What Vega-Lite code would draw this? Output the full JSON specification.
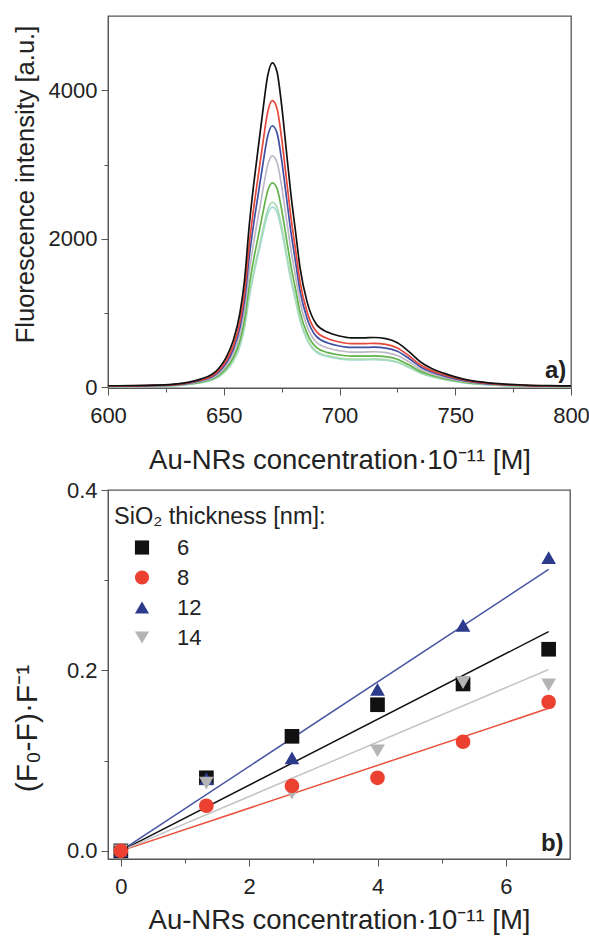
{
  "$schema": "https://vega.github.io/schema/vega-lite/v6.json",
  "padding": {"left": 11, "top": 15, "right": 10, "bottom": 0},
  "background": "white",
  "spacing": 3,
  "resolve": {
    "scale": {"color": "independent", "shape": "independent", "size": "independent"},
    "legend": {"color": "independent", "shape": "independent", "size": "independent"}
  },
  "datasets": {
    "fits": [
      {"s": "6", "x": 0, "y": 0}, {"s": "6", "x": 6.667, "y": 0.243},
      {"s": "8", "x": 0, "y": 0}, {"s": "8", "x": 6.667, "y": 0.158},
      {"s": "12", "x": 0, "y": 0}, {"s": "12", "x": 6.667, "y": 0.312},
      {"s": "14", "x": 0, "y": 0}, {"s": "14", "x": 6.667, "y": 0.201}
    ]
  },
  "config": {
    "font": "Liberation Sans",
    "view": {"stroke": "#555555", "strokeWidth": 1.3},
    "axis": {
      "grid": false,
      "domainColor": "#555555",
      "tickColor": "#555555",
      "labelColor": "#222222",
      "titleColor": "#222222",
      "labelFontSize": 22,
      "titleFontSize": 27.5,
      "titleFontWeight": "normal",
      "labelFont": "Liberation Sans",
      "titleFont": "Liberation Sans",
      "labelFlush": false,
      "labelOverlap": false,
      "labelBound": false
    }
  },
  "vconcat": [
    {
      "width": 463,
      "height": 372,
      "layer": [
        {
          "data": {
            "values": [
              {"w": 600, "k": 20, "r": 18, "b": 16, "g": 14, "gr": 13, "lg": 11, "c": 11},
              {"w": 610, "k": 22, "r": 19, "b": 18, "g": 16, "gr": 14, "lg": 13, "c": 12},
              {"w": 620, "k": 28, "r": 25, "b": 23, "g": 20, "gr": 18, "lg": 16, "c": 16},
              {"w": 630, "k": 45, "r": 40, "b": 36, "g": 32, "gr": 28, "lg": 26, "c": 25},
              {"w": 635, "k": 70, "r": 62, "b": 56, "g": 50, "gr": 44, "lg": 40, "c": 39},
              {"w": 640, "k": 110, "r": 97, "b": 89, "g": 78, "gr": 69, "lg": 63, "c": 61},
              {"w": 645, "k": 175, "r": 155, "b": 141, "g": 125, "gr": 110, "lg": 100, "c": 97},
              {"w": 648, "k": 260, "r": 230, "b": 210, "g": 185, "gr": 164, "lg": 148, "c": 144},
              {"w": 651, "k": 400, "r": 353, "b": 322, "g": 285, "gr": 252, "lg": 228, "c": 222},
              {"w": 654, "k": 620, "r": 547, "b": 500, "g": 442, "gr": 391, "lg": 353, "c": 344},
              {"w": 657, "k": 1000, "r": 883, "b": 806, "g": 713, "gr": 630, "lg": 570, "c": 555},
              {"w": 659, "k": 1450, "r": 1280, "b": 1169, "g": 1034, "gr": 914, "lg": 827, "c": 805},
              {"w": 661, "k": 2175, "r": 1921, "b": 1753, "g": 1551, "gr": 1370, "lg": 1240, "c": 1207},
              {"w": 663, "k": 2750, "r": 2428, "b": 2217, "g": 1961, "gr": 1733, "lg": 1568, "c": 1526},
              {"w": 665, "k": 3250, "r": 2870, "b": 2620, "g": 2317, "gr": 2048, "lg": 1853, "c": 1804},
              {"w": 667, "k": 3750, "r": 3311, "b": 3023, "g": 2674, "gr": 2363, "lg": 2138, "c": 2081},
              {"w": 669, "k": 4200, "r": 3709, "b": 3385, "g": 2995, "gr": 2646, "lg": 2394, "c": 2331},
              {"w": 671, "k": 4370, "r": 3859, "b": 3522, "g": 3116, "gr": 2753, "lg": 2491, "c": 2425},
              {"w": 673, "k": 4250, "r": 3753, "b": 3426, "g": 3030, "gr": 2678, "lg": 2423, "c": 2359},
              {"w": 675, "k": 3800, "r": 3355, "b": 3063, "g": 2709, "gr": 2394, "lg": 2166, "c": 2109},
              {"w": 677, "k": 3200, "r": 2826, "b": 2579, "g": 2282, "gr": 2016, "lg": 1824, "c": 1776},
              {"w": 679, "k": 2600, "r": 2296, "b": 2096, "g": 1854, "gr": 1638, "lg": 1482, "c": 1443},
              {"w": 681, "k": 2100, "r": 1854, "b": 1693, "g": 1497, "gr": 1323, "lg": 1197, "c": 1166},
              {"w": 683, "k": 1600, "r": 1413, "b": 1290, "g": 1141, "gr": 1008, "lg": 912, "c": 888},
              {"w": 686, "k": 1150, "r": 1015, "b": 927, "g": 820, "gr": 725, "lg": 656, "c": 638},
              {"w": 690, "k": 850, "r": 751, "b": 685, "g": 606, "gr": 536, "lg": 485, "c": 472},
              {"w": 695, "k": 740, "r": 653, "b": 596, "g": 528, "gr": 466, "lg": 422, "c": 411},
              {"w": 700, "k": 690, "r": 609, "b": 556, "g": 492, "gr": 435, "lg": 393, "c": 383},
              {"w": 705, "k": 665, "r": 587, "b": 536, "g": 474, "gr": 419, "lg": 379, "c": 369},
              {"w": 710, "k": 665, "r": 587, "b": 536, "g": 474, "gr": 419, "lg": 379, "c": 369},
              {"w": 715, "k": 670, "r": 592, "b": 540, "g": 478, "gr": 422, "lg": 382, "c": 372},
              {"w": 720, "k": 655, "r": 578, "b": 528, "g": 467, "gr": 413, "lg": 373, "c": 364},
              {"w": 725, "k": 600, "r": 530, "b": 484, "g": 428, "gr": 378, "lg": 342, "c": 333},
              {"w": 730, "k": 480, "r": 424, "b": 387, "g": 342, "gr": 302, "lg": 274, "c": 266},
              {"w": 735, "k": 340, "r": 300, "b": 274, "g": 242, "gr": 214, "lg": 194, "c": 189},
              {"w": 740, "k": 250, "r": 221, "b": 202, "g": 178, "gr": 158, "lg": 143, "c": 139},
              {"w": 745, "k": 190, "r": 168, "b": 153, "g": 135, "gr": 120, "lg": 108, "c": 105},
              {"w": 750, "k": 140, "r": 124, "b": 113, "g": 100, "gr": 88, "lg": 80, "c": 78},
              {"w": 755, "k": 100, "r": 88, "b": 81, "g": 71, "gr": 63, "lg": 57, "c": 56},
              {"w": 760, "k": 75, "r": 66, "b": 60, "g": 53, "gr": 47, "lg": 43, "c": 42},
              {"w": 770, "k": 45, "r": 40, "b": 36, "g": 32, "gr": 28, "lg": 26, "c": 25},
              {"w": 780, "k": 30, "r": 26, "b": 24, "g": 21, "gr": 19, "lg": 17, "c": 17},
              {"w": 790, "k": 22, "r": 19, "b": 18, "g": 16, "gr": 14, "lg": 13, "c": 12},
              {"w": 800, "k": 18, "r": 16, "b": 15, "g": 13, "gr": 11, "lg": 10, "c": 10}
            ]
          },
          "transform": [{"fold": ["c", "lg", "gr", "g", "b", "r", "k"], "as": ["series", "value"]}],
          "mark": {"type": "line", "strokeWidth": 1.7, "interpolate": "monotone", "clip": true},
          "encoding": {
            "x": {
              "field": "w", "type": "quantitative",
              "scale": {"domain": [600, 800], "nice": false, "zero": false},
              "axis": {
                "values": [600, 625, 650, 675, 700, 725, 750, 775, 800],
                "labelExpr": "datum.value % 50 == 0 ? datum.label : ''",
                "tickSize": {"condition": {"test": "datum.value % 50 == 0", "value": 7}, "value": 4},
                "labelPadding": 10,
                "titlePadding": 20,
                "title": "Au-NRs concentration·10⁻¹¹ [M]"
              }
            },
            "y": {
              "field": "value", "type": "quantitative",
              "scale": {"domain": [-10, 5000], "nice": false, "zero": false},
              "axis": {
                "values": [0, 1000, 2000, 3000, 4000],
                "format": "d",
                "labelExpr": "datum.value % 2000 == 0 ? datum.label : ''",
                "tickSize": {"condition": {"test": "datum.value % 2000 == 0", "value": 7}, "value": 4},
                "labelPadding": 4,
                "titlePadding": 10,
                "titleFontSize": 25.5,
                "titleY": 168,
                "title": "Fluorescence intensity [a.u.]"
              }
            },
            "color": {
              "field": "series", "type": "nominal",
              "scale": {
                "domain": ["k", "r", "b", "g", "gr", "lg", "c"],
                "range": ["#111111", "#e8473b", "#3f4fa3", "#bdb8c6", "#62b24a", "#a9dcb4", "#a2dad6"]
              },
              "legend": null
            }
          }
        },
        {
          "data": {"values": [{"t": "a)", "x": 798, "y": 130}]},
          "mark": {"type": "text", "fontSize": 24, "fontWeight": "bold", "align": "right", "baseline": "alphabetic", "color": "#222222"},
          "encoding": {
            "x": {"field": "x", "type": "quantitative"},
            "y": {"field": "y", "type": "quantitative"},
            "text": {"field": "t"}
          }
        }
      ]
    },
    {
      "width": 462,
      "height": 369,
      "layer": [
        {
          "data": {"name": "fits"},
          "transform": [{"filter": "datum.s == '6'"}],
          "mark": {"type": "line", "strokeWidth": 1.5, "color": "#111111"},
          "encoding": {
            "x": {
              "field": "x", "type": "quantitative",
              "scale": {"domain": [-0.2, 7], "nice": false, "zero": false},
              "axis": {
                "values": [0, 1, 2, 3, 4, 5, 6],
                "format": "d",
                "labelExpr": "datum.value % 2 == 0 ? datum.label : ''",
                "tickSize": {"condition": {"test": "datum.value % 2 == 0", "value": 7}, "value": 4},
                "labelPadding": 10,
                "titlePadding": 9,
                "title": "Au-NRs concentration·10⁻¹¹ [M]"
              }
            },
            "y": {
              "field": "y", "type": "quantitative",
              "scale": {"domain": [-0.009, 0.4], "nice": false, "zero": false},
              "axis": {
                "values": [0, 0.1, 0.2, 0.3, 0.4],
                "format": ".1f",
                "labelExpr": "round(datum.value * 10) % 2 == 0 ? datum.label : ''",
                "tickSize": {"condition": {"test": "round(datum.value * 10) % 2 == 0", "value": 7}, "value": 4},
                "labelPadding": 4,
                "titlePadding": 24,
                "titleFontSize": 30,
                "titleY": 238,
                "title": "(F₀-F)·F⁻¹"
              }
            }
          }
        },
        {
          "data": {"name": "fits"},
          "transform": [{"filter": "datum.s == '8'"}],
          "mark": {"type": "line", "strokeWidth": 1.5, "color": "#e8503c"},
          "encoding": {
            "x": {"field": "x", "type": "quantitative"},
            "y": {"field": "y", "type": "quantitative"}
          }
        },
        {
          "data": {"name": "fits"},
          "transform": [{"filter": "datum.s == '12'"}],
          "mark": {"type": "line", "strokeWidth": 1.5, "color": "#4653a0"},
          "encoding": {
            "x": {"field": "x", "type": "quantitative"},
            "y": {"field": "y", "type": "quantitative"}
          }
        },
        {
          "data": {"name": "fits"},
          "transform": [{"filter": "datum.s == '14'"}],
          "mark": {"type": "line", "strokeWidth": 1.5, "color": "#c4c4c4"},
          "encoding": {
            "x": {"field": "x", "type": "quantitative"},
            "y": {"field": "y", "type": "quantitative"}
          }
        },
        {
          "data": {
            "values": [
              {"s": "6", "x": 0, "y": 0},
              {"s": "6", "x": 1.333, "y": 0.081},
              {"s": "6", "x": 2.667, "y": 0.127},
              {"s": "6", "x": 4, "y": 0.162},
              {"s": "6", "x": 5.333, "y": 0.185},
              {"s": "6", "x": 6.667, "y": 0.2235},
              {"s": "12", "x": 0, "y": 0},
              {"s": "12", "x": 1.333, "y": 0.08},
              {"s": "12", "x": 2.667, "y": 0.103},
              {"s": "12", "x": 4, "y": 0.179},
              {"s": "12", "x": 5.333, "y": 0.25},
              {"s": "12", "x": 6.667, "y": 0.325},
              {"s": "14", "x": 0, "y": 0},
              {"s": "14", "x": 1.333, "y": 0.075},
              {"s": "14", "x": 2.667, "y": 0.064},
              {"s": "14", "x": 4, "y": 0.111},
              {"s": "14", "x": 5.333, "y": 0.1865},
              {"s": "14", "x": 6.667, "y": 0.184},
              {"s": "8", "x": 0, "y": 0},
              {"s": "8", "x": 1.333, "y": 0.05},
              {"s": "8", "x": 2.667, "y": 0.072},
              {"s": "8", "x": 4, "y": 0.081},
              {"s": "8", "x": 5.333, "y": 0.121},
              {"s": "8", "x": 6.667, "y": 0.165}
            ]
          },
          "mark": {"type": "point", "filled": true, "opacity": 1, "size": 215},
          "encoding": {
            "x": {"field": "x", "type": "quantitative"},
            "y": {"field": "y", "type": "quantitative"},
            "color": {
              "field": "s", "type": "nominal",
              "scale": {"domain": ["6", "8", "12", "14"], "range": ["#111111", "#ec4030", "#2c3a8c", "#b4b4b4"]},
              "legend": {
                "orient": "none", "legendX": 6, "legendY": 15,
                "title": "SiO₂ thickness [nm]:",
                "titleLimit": 400,
                "titleFontSize": 23.5, "titleFontWeight": "normal", "titleColor": "#222222",
                "labelFontSize": 22, "labelColor": "#222222",
                "symbolSize": 200, "symbolOffset": 17, "labelOffset": 24,
                "rowPadding": 8, "titlePadding": 8, "symbolStrokeWidth": 0
              }
            },
            "shape": {
              "field": "s", "type": "nominal",
              "scale": {"domain": ["6", "8", "12", "14"], "range": ["square", "circle", "triangle-up", "triangle-down"]},
              "legend": {
                "orient": "none", "legendX": 6, "legendY": 15,
                "title": "SiO₂ thickness [nm]:",
                "titleLimit": 400,
                "titleFontSize": 23.5, "titleFontWeight": "normal", "titleColor": "#222222",
                "labelFontSize": 22, "labelColor": "#222222",
                "symbolSize": 200, "symbolOffset": 17, "labelOffset": 24,
                "rowPadding": 8, "titlePadding": 8, "symbolStrokeWidth": 0
              }
            }
          }
        },
        {
          "data": {"values": [{"t": "b)", "x": 6.9, "y": 0.0}]},
          "mark": {"type": "text", "fontSize": 24, "fontWeight": "bold", "align": "right", "baseline": "alphabetic", "color": "#222222"},
          "encoding": {
            "x": {"field": "x", "type": "quantitative"},
            "y": {"field": "y", "type": "quantitative"},
            "text": {"field": "t"}
          }
        }
      ]
    }
  ]
}
